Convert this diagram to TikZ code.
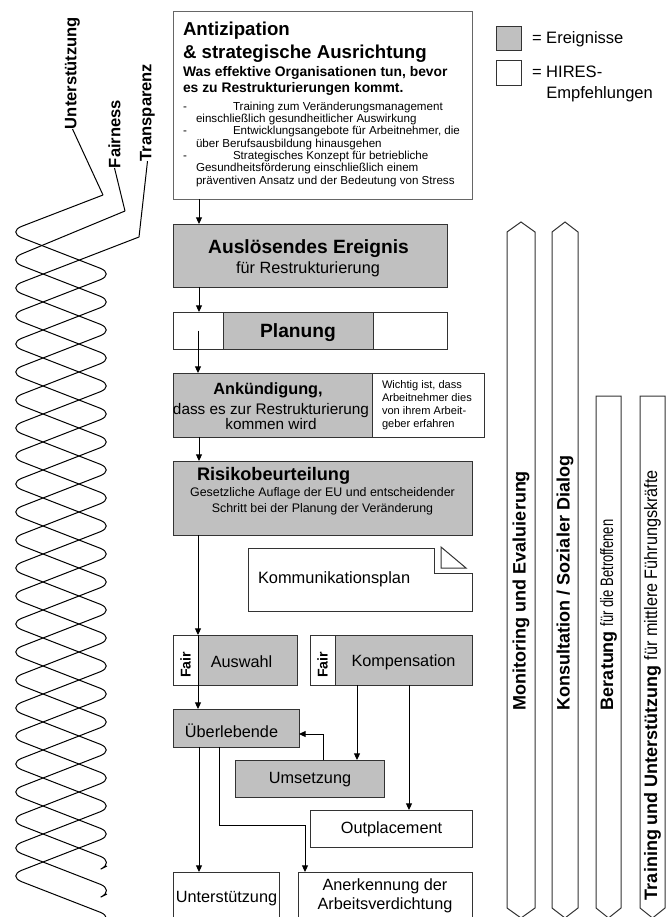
\documentclass[tikz,border=0pt]{standalone}
\usepackage{fontspec}
\setmainfont{Liberation Sans}
\usepackage{graphicx}
\usetikzlibrary{arrows.meta,positioning}
\definecolor{evtgray}{HTML}{C0C0C0}
\definecolor{frame}{HTML}{333333}
\newcommand{\fsz}[2]{\fontsize{#1}{#2}\selectfont}
\newcommand{\lstdash}{\hspace*{-9.75pt}\makebox[37.5pt][l]{-}}
\newcommand{\slimtxt}[2]{\scalebox{#1}[1]{#2}}
% box from corner (x1,y1) to corner (x2,y2), in pixels
\newcommand{\blk}[6]{%
  \pgfmathsetmacro{\blkw}{(#5-#3)*0.75}%
  \pgfmathsetmacro{\blkh}{(#6-#4)*0.75}%
  \node[#2, minimum width=\blkw pt, minimum height=\blkh pt] (#1) at ({(#3+#5)/2},{(#4+#6)/2}) {};}
\tikzset{
  box/.style={draw=frame, line width=0.75pt, inner sep=0pt, outer sep=0pt},
  evtbox/.style={box, fill=evtgray},
  recbox/.style={box, fill=white},
  txt/.style={inner sep=0pt, outer sep=0pt},
  evtxt/.style={txt, font=\fsz{12.2}{14.25}},
  vlbl/.style={txt, rotate=90, font=\fsz{13.5}{15}\bfseries},
  sidelbl/.style={txt, rotate=90, font=\fsz{12.4}{14}\bfseries},
  arr/.style={-{Triangle[length=5pt,width=4.5pt]}, line width=0.75pt},
  strand/.style={line width=0.75pt, rounded corners=12pt},
  pillar/.style={draw=frame, line width=0.75pt, fill=white},
}

\begin{document}
\begin{tikzpicture}[x=0.75pt, y=-0.75pt]
  \useasboundingbox (0,0) rectangle (670,917);
  \clip (0,0) rectangle (670,917);

  % legend
  \blk{legE}{evtbox}{496}{27}{521}{51}
  \blk{legH}{recbox}{496}{61}{521}{86}
  \node[txt, anchor=base west, font=\fsz{12.4}{15.75}] (legEt) at (532,44) {= Ereignisse};
  \node[txt, anchor=north west, align=left, font=\fsz{12.4}{15.75}] (legHt) at (532,66.2) {= HIRES-\\\hspace*{10.7pt}Empfehlungen};

  % anticipation
  \blk{anti}{recbox, draw=black!60}{173}{12}{472}{199}
  \node[txt, anchor=north west, align=left, font=\fsz{14}{16.9}\bfseries] (antiT) at (183,22.3) {Antizipation\\\& strategische Ausrichtung};
  \node[txt, anchor=north west, align=left, font=\fsz{10.4}{12}\bfseries] (antiS) at (183,66.9) {Was effektive Organisationen tun, bevor\\es zu Restrukturierungen kommt.};
  \node[txt, anchor=north west, align=left, font=\fsz{8.7}{9.25}] (antiL) at (196,101.7) {\lstdash Training zum Veränderungsmanagement\\einschließlich gesundheitlicher Auswirkung\\\lstdash Entwicklungsangebote für Arbeitnehmer, die\\über Berufsausbildung hinausgehen\\\lstdash Strategisches Konzept für betriebliche\\Gesundheitsförderung einschließlich einem\\präventiven Ansatz und der Bedeutung von Stress};

  % events down the spine
  \blk{ausl}{evtbox}{173}{224}{447}{287}
  \node[txt, anchor=base, font=\fsz{14.4}{17}\bfseries] (auslT) at (308.5,253) {Auslösendes Ereignis};
  \node[evtxt, anchor=base] (auslS) at (308,273) {für Restrukturierung};

  \blk{planA}{recbox}{173}{312}{223}{349}
  \blk{planB}{evtbox}{223}{312}{373}{349}
  \blk{planC}{recbox}{373}{312}{447}{349}
  \node[txt, anchor=base, font=\fsz{14.4}{17}\bfseries] (planT) at (298,337) {Planung};

  \blk{ankd}{evtbox}{173}{373}{372}{437}
  \blk{ankdN}{recbox}{372}{373}{484}{437}
  \node[txt, anchor=base, font=\fsz{12.2}{14}\bfseries] (ankdT) at (268,394) {Ankündigung,};
  \node[txt, anchor=north, align=center, font=\fsz{11.5}{11.25}] (ankdS) at (271,403.8) {dass es zur Restrukturierung\\kommen wird};
  \node[txt, anchor=north west, align=left, font=\fsz{8.3}{9.6}] (ankdNt) at (382,380.9) {Wichtig ist, dass\\Arbeitnehmer dies\\von ihrem Arbeit-\\geber erfahren};

  \blk{risk}{evtbox}{173}{461}{472}{535}
  \node[txt, anchor=base west, font=\fsz{13.6}{16}\bfseries] (riskT) at (197,480) {Risikobeurteilung};
  \node[txt, anchor=north, align=center, font=\fsz{9.3}{12}] (riskS) at (322.5,488) {Gesetzliche Auflage der EU und entscheidender\\Schritt bei der Planung der Veränderung};

  % communication plan, folded corner
  \draw[box, fill=white] (248,548) -- (434,548) -- (434,573) -- (472,573) -- (472,611) -- (248,611) -- cycle;
  \draw[box] (441,547) -- (441,568) -- (466,568) -- cycle;
  \node[txt, anchor=base west, font=\fsz{12.3}{14}] (komm) at (258,583) {Kommunikationsplan};

  % selection and compensation
  \blk{auswF}{recbox}{173}{635}{198}{685}
  \blk{ausw}{evtbox}{198}{635}{297}{685}
  \blk{kompF}{recbox}{310}{635}{335}{685}
  \blk{komp}{evtbox}{335}{635}{472}{685}
  \node[txt, rotate=90, font=\fsz{10.6}{12}\bfseries] (auswFt) at (185.5,665) {Fair};
  \node[txt, rotate=90, font=\fsz{10.6}{12}\bfseries] (kompFt) at (322.5,665) {Fair};
  \node[evtxt, anchor=base] (auswT) at (241.5,667) {Auswahl};
  \node[evtxt, anchor=base] (kompT) at (403.5,666) {Kompensation};

  \blk{ueb}{evtbox}{173}{709}{299}{747}
  \node[evtxt, anchor=base] (uebT) at (231.5,737) {Überlebende};
  \blk{ums}{evtbox}{235}{760}{384}{797}
  \node[evtxt, anchor=base] (umsT) at (310,783) {Umsetzung};
  \blk{outp}{recbox}{310}{810}{472}{847}
  \node[evtxt, anchor=base] (outpT) at (391.5,833) {Outplacement};
  \blk{unt}{recbox}{173}{872}{279}{930}
  \node[evtxt, anchor=base] (untT) at (226.5,902) {Unterstützung};
  \blk{anerk}{recbox}{298}{872}{472}{930}
  \node[evtxt, anchor=north, align=center] (anerkT) at (385,879.1) {Anerkennung der\\Arbeitsverdichtung};

  % connectors
  \coordinate (spine) at (199,0);
  \coordinate (xU) at (357,0);
  \coordinate (xO) at (409,0);
  \coordinate (xR) at (323,0);
  \coordinate (xA) at (219,0);
  \coordinate (bend) at (305,825);
  \draw[arr] (anti.south -| spine) -- (ausl.north -| spine);
  \draw[arr] (ausl.south -| spine) -- (planA.north -| spine);
  \draw[arr] (planA.center) -- (ankd.north -| planA.center);
  \draw[arr] (ankd.south -| spine) -- (risk.north -| spine);
  \draw[arr] (risk.south -| ausw.north west) -- (ausw.north west);
  \draw[arr] (ausw.north west) -- (ueb.north -| ausw.north west);
  \draw[arr] (komp.south -| xU) -- (ums.north -| xU);
  \draw[arr] (komp.south -| xO) -- (outp.north -| xO);
  \draw[arr] (ums.north -| xR) |- ([yshift=-4.5pt]ueb.east);
  \draw[arr] (ueb.south -| spine) -- (unt.north -| spine);
  \draw[arr] (ueb.south -| xA) |- (bend) -- (anerk.north -| bend);

  % pillars on the right
  \foreach \bx/\bw in {507/28, 552/26} {
    \draw[pillar] (\bx,232) -- ++(\bw/2,-10) -- ++(\bw/2,10) -- (\bx+\bw,908)
      -- ++(-\bw/2,10) -- ++(-\bw/2,-10) -- cycle;
  }
  \foreach \bx/\bw in {596/25, 640/25} {
    \draw[pillar] (\bx,396) -- (\bx+\bw,396) -- (\bx+\bw,908)
      -- ++(-\bw/2,10) -- ++(-\bw/2,-10) -- cycle;
  }
  \node[vlbl, anchor=west] (monT) at (521,710) {Monitoring und Evaluierung};
  \node[vlbl, anchor=west] (konT) at (565,710) {Konsultation / Sozialer Dialog};
  \node[vlbl, anchor=west] (berT) at (608.5,710) {Beratung \slimtxt{0.72}{\mdseries für die Betroffenen}};
  \node[vlbl, anchor=west] (traT) at (652.5,900) {Training und Unterstützung \slimtxt{0.9}{\mdseries für mittlere Führungskräfte}};

  % three strands: support, fairness, transparency
  \node[sidelbl] (lblU) at (72.5,73) {Unterstützung};
  \node[sidelbl] (lblF) at (114.5,134) {Fairness};
  \node[sidelbl] (lblT) at (147.5,112.5) {Transparenz};
  \coordinate (sU) at (103,195);
  \coordinate (sF) at (125,211);
  \coordinate (sT) at (139,237);
  \draw[line width=0.75pt] (lblU.west) -- (sU);
  \draw[line width=0.75pt] (lblF.west) -- (sF);
  \draw[line width=0.75pt] (lblT.west) -- (sT);
  \foreach \s/\y in {sU/190, sF/218, sT/246} {
    \draw[strand] (\s) \foreach \n in {0,...,7} { -- (7,\y+42+84*\n) -- (115,\y+84+84*\n) } -- (107,\y+676);
  }
\end{tikzpicture}
\end{document}
